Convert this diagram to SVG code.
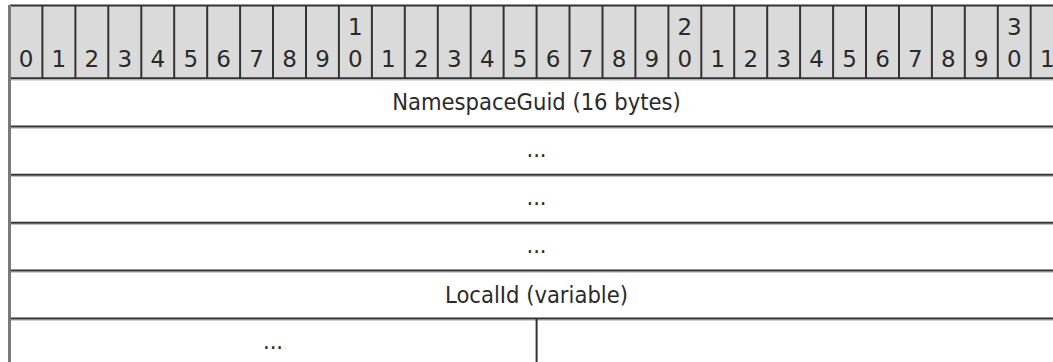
<svg xmlns="http://www.w3.org/2000/svg" width="1053" height="362" viewBox="0 0 1053 362">
<style>
.t{font-family:'DejaVu Sans',sans-serif;font-size:23px;fill:#2a2a2a;text-anchor:middle}
.h{font-family:'DejaVu Sans Condensed','DejaVu Sans',sans-serif;font-size:23.5px;fill:#2a2a2a;text-anchor:middle}
.ln{stroke:#333;stroke-width:2;fill:none}
.sh{stroke:#bbb;stroke-width:1;fill:none}
</style>
<rect width="1053" height="362" fill="#fff"/>
<g id="header">
<rect x="9.5" y="5" width="1060" height="73.3" fill="#dadada"/>
<line class="ln" x1="9.5" y1="5.5" x2="1053" y2="5.5"/>
<g id="ticks" class="ln">
<line x1="42.4" y1="5" x2="42.4" y2="78"/><line x1="75.4" y1="5" x2="75.4" y2="78"/><line x1="108.3" y1="5" x2="108.3" y2="78"/><line x1="141.3" y1="5" x2="141.3" y2="78"/><line x1="174.2" y1="5" x2="174.2" y2="78"/><line x1="207.2" y1="5" x2="207.2" y2="78"/><line x1="240.1" y1="5" x2="240.1" y2="78"/><line x1="273.0" y1="5" x2="273.0" y2="78"/><line x1="306.0" y1="5" x2="306.0" y2="78"/><line x1="338.9" y1="5" x2="338.9" y2="78"/><line x1="371.9" y1="5" x2="371.9" y2="78"/><line x1="404.8" y1="5" x2="404.8" y2="78"/><line x1="437.8" y1="5" x2="437.8" y2="78"/><line x1="470.7" y1="5" x2="470.7" y2="78"/><line x1="503.6" y1="5" x2="503.6" y2="78"/><line x1="536.6" y1="5" x2="536.6" y2="78"/><line x1="569.5" y1="5" x2="569.5" y2="78"/><line x1="602.5" y1="5" x2="602.5" y2="78"/><line x1="635.4" y1="5" x2="635.4" y2="78"/><line x1="668.4" y1="5" x2="668.4" y2="78"/><line x1="701.3" y1="5" x2="701.3" y2="78"/><line x1="734.2" y1="5" x2="734.2" y2="78"/><line x1="767.2" y1="5" x2="767.2" y2="78"/><line x1="800.1" y1="5" x2="800.1" y2="78"/><line x1="833.1" y1="5" x2="833.1" y2="78"/><line x1="866.0" y1="5" x2="866.0" y2="78"/><line x1="899.0" y1="5" x2="899.0" y2="78"/><line x1="931.9" y1="5" x2="931.9" y2="78"/><line x1="964.8" y1="5" x2="964.8" y2="78"/><line x1="997.8" y1="5" x2="997.8" y2="78"/><line x1="1030.7" y1="5" x2="1030.7" y2="78"/>
</g>
<g class="t">
<text x="26" y="67">0</text><text x="58.9" y="67">1</text><text x="91.9" y="67">2</text><text x="124.8" y="67">3</text><text x="157.8" y="67">4</text><text x="190.7" y="67">5</text><text x="223.6" y="67">6</text><text x="256.6" y="67">7</text><text x="289.5" y="67">8</text><text x="322.5" y="67">9</text>
<text x="355.4" y="35">1</text><text x="355.4" y="67">0</text>
<text x="388.4" y="67">1</text><text x="421.3" y="67">2</text><text x="454.2" y="67">3</text><text x="487.2" y="67">4</text><text x="520.1" y="67">5</text><text x="553.1" y="67">6</text><text x="586.0" y="67">7</text><text x="619.0" y="67">8</text><text x="651.9" y="67">9</text>
<text x="684.8" y="35">2</text><text x="684.8" y="67">0</text>
<text x="717.8" y="67">1</text><text x="750.7" y="67">2</text><text x="783.7" y="67">3</text><text x="816.6" y="67">4</text><text x="849.6" y="67">5</text><text x="882.5" y="67">6</text><text x="915.4" y="67">7</text><text x="948.4" y="67">8</text><text x="981.3" y="67">9</text>
<text x="1014.3" y="35">3</text><text x="1014.3" y="67">0</text>
<text x="1047.2" y="67">1</text>
</g>
</g>
<g id="rows">
<g class="sh">
<line x1="9.5" y1="80" x2="1053" y2="80"/><line x1="9.5" y1="128.2" x2="1053" y2="128.2"/><line x1="9.5" y1="176.4" x2="1053" y2="176.4"/><line x1="9.5" y1="224.4" x2="1053" y2="224.4"/><line x1="9.5" y1="272.2" x2="1053" y2="272.2"/><line x1="9.5" y1="320.2" x2="1053" y2="320.2"/>
</g>
<g class="ln">
<line x1="9.5" y1="78.3" x2="1053" y2="78.3"/><line x1="9.5" y1="126.5" x2="1053" y2="126.5"/><line x1="9.5" y1="174.7" x2="1053" y2="174.7"/><line x1="9.5" y1="222.7" x2="1053" y2="222.7"/><line x1="9.5" y1="270.5" x2="1053" y2="270.5"/><line x1="9.5" y1="318.5" x2="1053" y2="318.5"/>
<line x1="536.6" y1="318.5" x2="536.6" y2="362"/>
</g>
</g>
<line id="leftborder" x1="9.5" y1="5" x2="9.5" y2="362" stroke="#7a7a7a" stroke-width="3"/>
<g id="field-namespaceguid"><text class="h" x="536.5" y="110">NamespaceGuid (16 bytes)</text></g>
<g id="field-cont1"><text class="h" x="536.5" y="157">...</text></g>
<g id="field-cont2"><text class="h" x="536.5" y="205">...</text></g>
<g id="field-cont3"><text class="h" x="536.5" y="253">...</text></g>
<g id="field-localid"><text class="h" x="536.5" y="303">LocalId (variable)</text></g>
<g id="field-cont4"><text class="h" x="273" y="349">...</text></g>
</svg>
